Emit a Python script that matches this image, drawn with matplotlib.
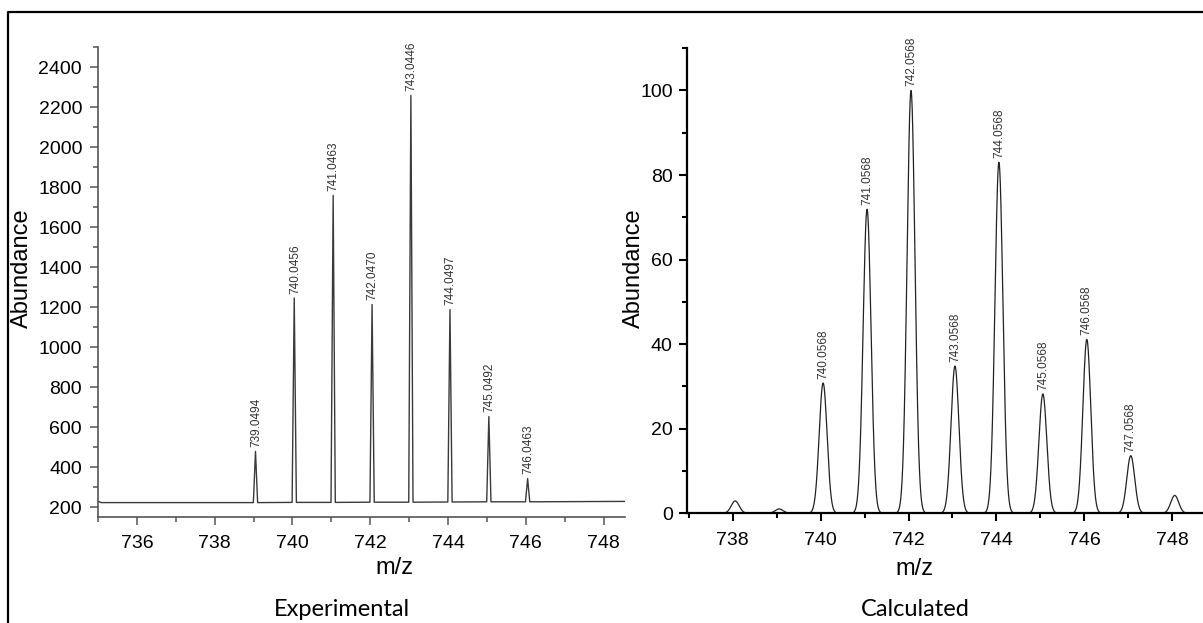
import numpy as np
import matplotlib
matplotlib.use("Agg")
import matplotlib.pyplot as plt
from matplotlib.ticker import MultipleLocator
from matplotlib.lines import Line2D

plt.rcParams['font.family'] = ['Liberation Sans', 'DejaVu Sans']

# Experimental spectrum: peak m/z, peak abundance, baseline under each peak
exp_mz = [739.0494, 740.0456, 741.0463, 742.0470, 743.0446, 744.0497, 745.0492, 746.0463]
exp_abund = [478, 1245, 1758, 1212, 2258, 1187, 652, 342]
exp_base = [222, 223, 223, 224, 224, 225, 226, 226]
exp_edges_mz = [735.0, 735.08, 748.55]
exp_edges_abund = [229, 222, 228]

# Calculated isotope pattern
calc_mz = [738.0568, 739.0568, 740.0568, 741.0568, 742.0568, 743.0568,
           744.0568, 745.0568, 746.0568, 747.0568, 748.0568]
calc_abund = [2.9, 1.0, 30.8, 71.9, 100.0, 34.8, 83.0, 28.2, 41.1, 13.6, 4.2]
calc_labelled = [False, False, True, True, True, True, True, True, True, True, False]

fig = plt.figure(figsize=(12.03, 6.23), dpi=100)

# ---- left panel: experimental ----
gray = '#555555'
ax1 = fig.add_axes([98 / 1203, 1 - 517 / 623, 527 / 1203, 470 / 623])

# build stick-like profile from the peak list
half = 0.055
xs = [exp_edges_mz[0], exp_edges_mz[1]]
ys = [exp_edges_abund[0], exp_edges_abund[1]]
for c, h, b in zip(exp_mz, exp_abund, exp_base):
    xs += [c - half, c, c + half]
    ys += [b, h, b]
xs.append(exp_edges_mz[2])
ys.append(exp_edges_abund[2])
ax1.plot(xs, ys, color='#3a3a3a', lw=1.0)

for c, h in zip(exp_mz, exp_abund):
    ax1.annotate(f"{c:.4f}", (c, h), xytext=(0.5, 3), textcoords='offset points',
                 rotation=90, ha='center', va='bottom', fontsize=8.5, color='#333333')

ax1.set_xlim(735, 748.55)
ax1.set_ylim(150, 2500)
ax1.xaxis.set_major_locator(MultipleLocator(2))
ax1.xaxis.set_minor_locator(MultipleLocator(1))
ax1.yaxis.set_minor_locator(MultipleLocator(100))
ax1.set_yticks(np.arange(200, 2401, 200))
for s in ['top', 'right']:
    ax1.spines[s].set_visible(False)
for s in ['left', 'bottom']:
    ax1.spines[s].set_color(gray)
    ax1.spines[s].set_linewidth(1.2)
ax1.tick_params(which='major', length=6, width=1.1, color=gray, labelsize=14, pad=5.5)
ax1.tick_params(which='minor', length=3.5, width=1.1, color=gray)
ax1.tick_params(axis='x', which='major', pad=7)
ax1.text(-0.144, 0.53, 'Abundance', transform=ax1.transAxes, rotation=90,
         ha='center', va='center', fontsize=17)
ax1.text(0.562, -0.1085, 'm/z', transform=ax1.transAxes,
         ha='center', va='center', fontsize=17)

# ---- right panel: calculated ----
ax2 = fig.add_axes([687 / 1203, 1 - 513.2 / 623, 516 / 1203, 465 / 623])
grid = np.linspace(736.96, 748.7, 3000)
sigma = 0.09
profile = np.zeros_like(grid)
for c, h in zip(calc_mz, calc_abund):
    profile += h * np.exp(-0.5 * ((grid - c) / sigma) ** 2)
ax2.plot(grid, profile, color='#222222', lw=0.9)

for c, h, lab in zip(calc_mz, calc_abund, calc_labelled):
    if lab:
        ax2.annotate(f"{c:.4f}", (c, h), xytext=(0, 3), textcoords='offset points',
                     rotation=90, ha='center', va='bottom', fontsize=8.5, color='#333333')

ax2.set_xlim(736.96, 748.7)
ax2.set_ylim(0, 110)
ax2.xaxis.set_major_locator(MultipleLocator(2))
ax2.xaxis.set_minor_locator(MultipleLocator(1))
ax2.set_yticks(np.arange(0, 101, 20))
ax2.yaxis.set_minor_locator(MultipleLocator(10))
for s in ['top', 'right']:
    ax2.spines[s].set_visible(False)
for s in ['left', 'bottom']:
    ax2.spines[s].set_color('black')
    ax2.spines[s].set_linewidth(1.6)
ax2.tick_params(which='major', length=6, width=1.5, color='black', labelsize=14, pad=4.3)
ax2.tick_params(which='minor', length=3.5, width=1.5, color='black')
ax2.tick_params(axis='x', which='major', pad=7.5)
ax2.text(-0.103, 0.527, 'Abundance', transform=ax2.transAxes, rotation=90,
         ha='center', va='center', fontsize=17)
ax2.text(0.44, -0.12, 'm/z', transform=ax2.transAxes,
         ha='center', va='center', fontsize=17)

# captions under each panel
fig.text(341.7 / 1203, 1 - 610 / 623, 'Experimental', ha='center', va='center',
         fontsize=17, family=['Lato', 'DejaVu Sans'])
fig.text(915.7 / 1203, 1 - 609 / 623, 'Calculated', ha='center', va='center',
         fontsize=17, family=['Lato', 'DejaVu Sans'])

# outer frame (cut off on the right and bottom in the original)
bx, by = 8 / 1203, 1 - 12 / 623
fig.add_artist(Line2D([bx, bx, 1.01], [-0.01, by, by], transform=fig.transFigure,
                      color='black', lw=1.6))

fig.savefig('out.png', dpi=100)
